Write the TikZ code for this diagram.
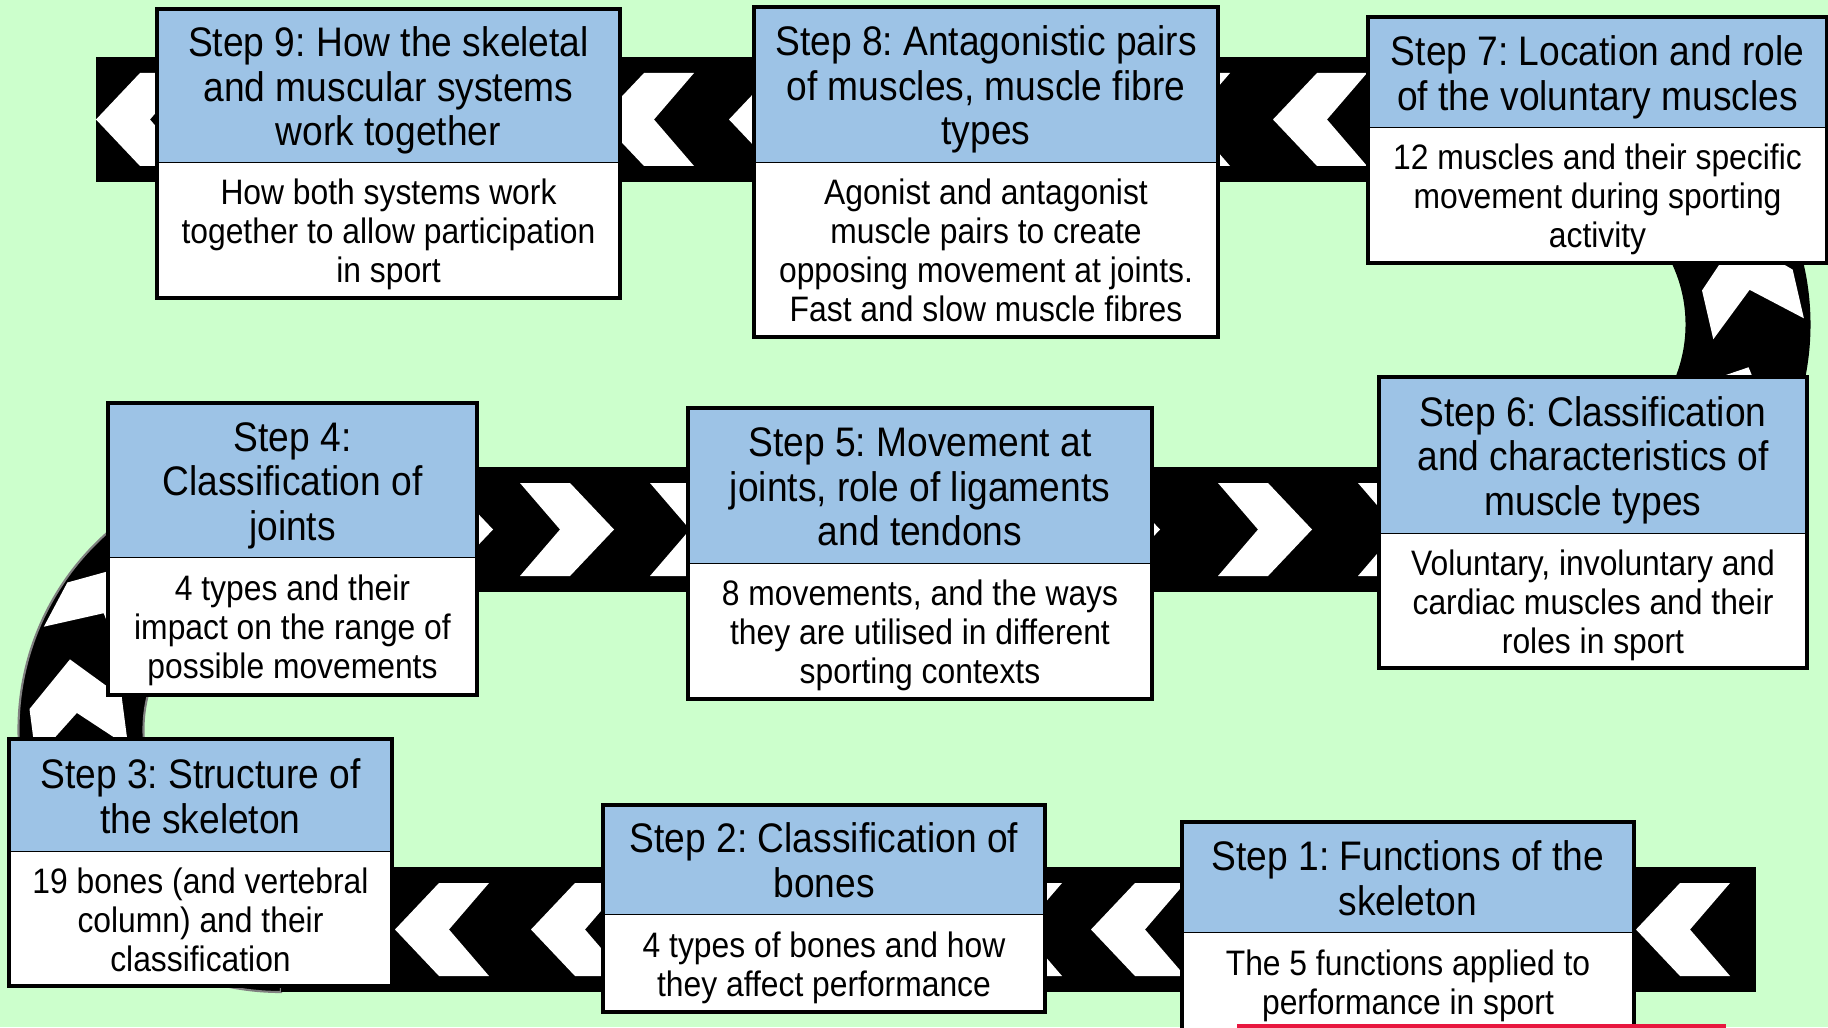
\documentclass[tikz,border=0pt]{standalone}
\usepackage{fontspec}
\setmainfont{Liberation Sans}[FakeStretch=0.9]
\usetikzlibrary{positioning}
\frenchspacing

\definecolor{meadow}{RGB}{204,255,204}
\definecolor{stepblue}{RGB}{157,195,230}
\definecolor{stripred}{RGB}{232,23,63}

% one white chevron of the road, centred at (#1,#2), pointing left, turned by #3
\newcommand{\roadchevron}[3]{%
	\fill[white, shift={(#1,#2)}, rotate=#3] (-0.47,0) -- (-0.03,0.465) -- (0.47,0.465) -- (0.07,0) -- (0.47,-0.465) -- (-0.03,-0.465) -- cycle;}

\begin{document}
\begin{tikzpicture}
	\tikzstyle{steptitle}=[draw, line width=0.65pt, fill=stepblue, align=flush center, inner sep=0pt, outer sep=0pt, anchor=north west, font=\fontsize{11.75}{12.7}\selectfont,
		execute at begin node={\rule{0pt}{11.2pt}}, execute at end node={\rule[-2.5pt]{0pt}{0pt}}]
	\tikzstyle{stepbody}=[fill=white, align=flush center, inner sep=0pt, outer sep=0pt, font=\fontsize{10.06}{11.1}\selectfont,
		execute at begin node={\rule{0pt}{9.6pt}}, execute at end node={\rule[-2.1pt]{0pt}{0pt}}]
	\tikzstyle{stepframe}=[draw, line width=1.35pt]
	\tikzstyle{road}=[fill=black]

	\useasboundingbox (0,0) rectangle (18.28,10.27);
	\clip (0,0) rectangle (18.28,10.27);
	\fill[meadow] (0,0) rectangle (18.28,10.27);

	% the road
	\fill[road] (0.96,8.45) rectangle (15.43,9.70); % top row
	\fill[road] (15.43,4.35) arc[start angle=-90, end angle=90, radius=2.675] -- (15.43,8.45) arc[start angle=90, end angle=-90, radius=1.425] -- cycle; % right bend
	\fill[road] (2.81,4.35) rectangle (15.43,5.60); % middle row
	\fill[road, draw=gray, line width=0.6pt] (2.81,5.60) arc[start angle=90, end angle=270, radius=2.625] -- (2.81,1.60) arc[start angle=270, end angle=90, radius=1.375] -- cycle; % left bend
	\fill[road] (2.81,0.35) rectangle (17.56,1.60); % bottom row

	\foreach \x in {1.43,6.47,7.76,11.83,13.20} \roadchevron{\x}{9.075}{0};
	\foreach \x in {4.46,5.67,6.97,11.13,12.65,14.05} \roadchevron{\x}{4.975}{180};
	\foreach \x in {4.42,5.78,10.15,11.38,16.83} \roadchevron{\x}{0.975}{0};
	\roadchevron{17.48}{7.44}{-77}
	\roadchevron{17.29}{6.17}{-114.6}
	\roadchevron{0.76}{3.21}{-82.6}
	\roadchevron{1.07}{4.20}{-118}

	% step 9
	\node[steptitle, text width=4.63cm, minimum height=1.54cm] (t9) at (1.57,10.18) {Step 9: How the skeletal\\and muscular systems\\work together};
	\node[stepbody, text width=4.63cm, minimum height=1.35cm, below=0pt of t9] (b9) {How both systems work\\together to allow participation\\in sport};
	\draw[stepframe] (t9.north west) rectangle (b9.south east);

	% step 8
	\node[steptitle, text width=4.64cm, minimum height=1.56cm] (t8) at (7.54,10.20) {Step 8: Antagonistic pairs\\of muscles, muscle fibre\\types};
	\node[stepbody, text width=4.64cm, minimum height=1.74cm, below=0pt of t8] (b8) {Agonist and antagonist\\muscle pairs to create\\opposing movement at joints.\\Fast and slow muscle fibres};
	\draw[stepframe] (t8.north west) rectangle (b8.south east);

	% step 7
	\node[steptitle, text width=4.59cm, minimum height=1.11cm] (t7) at (13.68,10.10) {Step 7: Location and role\\of the voluntary muscles};
	\node[stepbody, text width=4.59cm, minimum height=1.35cm, below=0pt of t7] (b7) {12 muscles and their specific\\movement during sporting\\activity};
	\draw[stepframe] (t7.north west) rectangle (b7.south east);

	% step 6
	\node[steptitle, text width=4.28cm, minimum height=1.57cm] (t6) at (13.79,6.50) {Step 6: Classification\\and characteristics of\\muscle types};
	\node[stepbody, text width=4.28cm, minimum height=1.34cm, below=0pt of t6] (b6) {Voluntary, involuntary and\\cardiac muscles and their\\roles in sport};
	\draw[stepframe] (t6.north west) rectangle (b6.south east);

	% step 5
	\node[steptitle, text width=4.64cm, minimum height=1.56cm] (t5) at (6.88,6.19) {Step 5: Movement at\\joints, role of ligaments\\and tendons};
	\node[stepbody, text width=4.64cm, minimum height=1.35cm, below=0pt of t5] (b5) {8 movements, and the ways\\they are utilised in different\\sporting contexts};
	\draw[stepframe] (t5.north west) rectangle (b5.south east);

	% step 4
	\node[steptitle, text width=3.69cm, minimum height=1.55cm] (t4) at (1.08,6.24) {Step 4:\\Classification of\\joints};
	\node[stepbody, text width=3.69cm, minimum height=1.37cm, below=0pt of t4] (b4) {4 types and their\\impact on the range of\\possible movements};
	\draw[stepframe] (t4.north west) rectangle (b4.south east);

	% step 3
	\node[steptitle, text width=3.83cm, minimum height=1.13cm] (t3) at (0.09,2.88) {Step 3: Structure of\\the skeleton};
	\node[stepbody, text width=3.83cm, minimum height=1.34cm, below=0pt of t3] (b3) {19 bones (and vertebral\\column) and their\\classification};
	\draw[stepframe] (t3.north west) rectangle (b3.south east);

	% step 2
	\node[steptitle, text width=4.42cm, minimum height=1.10cm] (t2) at (6.03,2.22) {Step 2: Classification of\\bones};
	\node[stepbody, text width=4.42cm, minimum height=0.97cm, below=0pt of t2] (b2) {4 types of bones and how\\they affect performance};
	\draw[stepframe] (t2.north west) rectangle (b2.south east);

	% step 1
	\node[steptitle, text width=4.52cm, minimum height=1.11cm] (t1) at (11.82,2.05) {Step 1: Functions of the\\skeleton};
	\node[stepbody, text width=4.52cm, minimum height=0.98cm, below=0pt of t1] (b1) {The 5 functions applied to\\performance in sport};
	\draw[stepframe] (t1.north west) rectangle (b1.south east);

	\fill[stripred] (12.37,-0.1) rectangle (17.26,0.03);
\end{tikzpicture}
\end{document}
